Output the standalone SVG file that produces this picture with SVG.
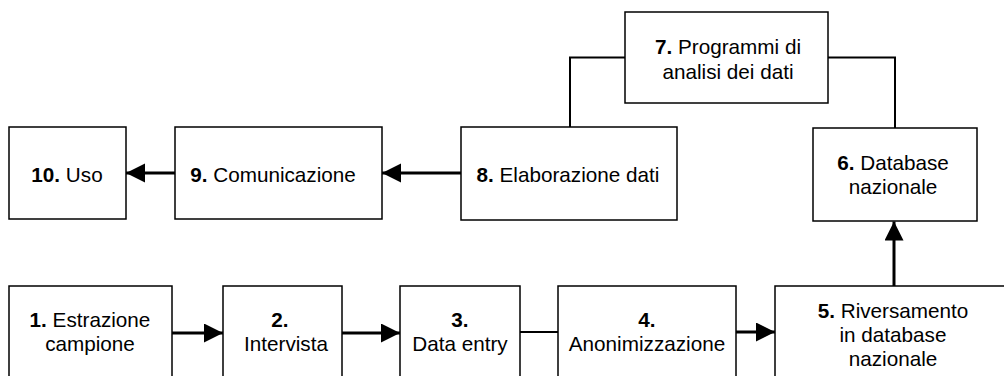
<svg xmlns="http://www.w3.org/2000/svg" width="1004" height="376" viewBox="0 0 1004 376">
<style>
.box{fill:#fff;stroke:#000;stroke-width:1.5}
text{font-family:"Liberation Sans",Arial,sans-serif;font-size:20.7px;fill:#000;text-anchor:middle}
.b{font-weight:bold}
.arr{stroke:#000;stroke-width:3;fill:none;marker-end:url(#ah)}
.ln{stroke:#000;stroke-width:2;fill:none}
</style>
<defs>
<marker id="ah" markerUnits="userSpaceOnUse" markerWidth="20" markerHeight="20" refX="19" refY="9.5" orient="auto">
<path d="M0,0 L19,9.5 L0,19 z" fill="#000"/>
</marker>
</defs>
<rect width="1004" height="376" fill="#fff"/>
<g id="connectors">
<line class="arr" x1="172" y1="333" x2="223" y2="333"/>
<line class="arr" x1="342" y1="333" x2="400" y2="333"/>
<line class="ln" x1="520" y1="332" x2="558" y2="332"/>
<line class="arr" x1="736" y1="332" x2="775" y2="332"/>
<line class="arr" x1="894" y1="286" x2="894" y2="221.5"/>
<polyline class="ln" points="625,57.5 570,57.5 570,127"/>
<polyline class="ln" points="828,57.5 895,57.5 895,128"/>
<line class="arr" x1="461" y1="173" x2="382" y2="173"/>
<line class="arr" x1="175" y1="173" x2="126" y2="173"/>
</g>
<g id="n1"><rect class="box" x="9" y="286" width="163" height="100"/>
<text x="90" y="327"><tspan class="b">1.</tspan> Estrazione</text><text x="90" y="351">campione</text></g>
<g id="n2"><rect class="box" x="223" y="286" width="119" height="100"/>
<text x="280" y="327" class="b">2.</text><text x="286" y="351">Intervista</text></g>
<g id="n3"><rect class="box" x="400" y="286" width="120" height="100"/>
<text x="460" y="327" class="b">3.</text><text x="460" y="351">Data entry</text></g>
<g id="n4"><rect class="box" x="558" y="286" width="178" height="100"/>
<text x="647" y="327" class="b">4.</text><text x="647" y="351">Anonimizzazione</text></g>
<g id="n5"><rect class="box" x="775" y="286" width="240" height="100"/>
<text x="893" y="318"><tspan class="b">5.</tspan> Riversamento</text><text x="893" y="342">in database</text><text x="893" y="366">nazionale</text></g>
<g id="n6"><rect class="box" x="813" y="128" width="164" height="93"/>
<text x="893" y="170"><tspan class="b">6.</tspan> Database</text><text x="893" y="194">nazionale</text></g>
<g id="n7"><rect class="box" x="625" y="12" width="203" height="91"/>
<text x="728" y="54"><tspan class="b">7.</tspan> Programmi di</text><text x="728" y="78.5">analisi dei dati</text></g>
<g id="n8"><rect class="box" x="461" y="127" width="216" height="93"/>
<text x="568" y="182"><tspan class="b">8.</tspan> Elaborazione dati</text></g>
<g id="n9"><rect class="box" x="175" y="127" width="207" height="92"/>
<text x="273" y="182"><tspan class="b">9.</tspan> Comunicazione</text></g>
<g id="n10"><rect class="box" x="9" y="127" width="117" height="92"/>
<text x="67" y="182"><tspan class="b">10.</tspan> Uso</text></g>
</svg>
